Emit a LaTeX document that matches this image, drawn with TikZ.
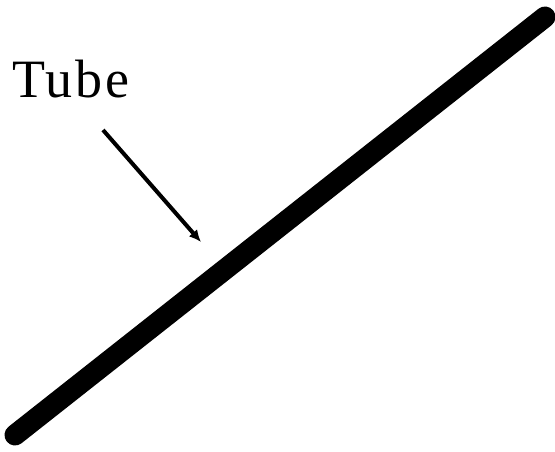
\documentclass[tikz,border=0pt]{standalone}
\usepackage{fontspec}
\setmainfont{Liberation Serif}
\usetikzlibrary{arrows.meta}

\begin{document}
\begin{tikzpicture}[x=1pt, y=-1pt]
        % Frame of the picture
        \useasboundingbox (0,0) rectangle (555,452);
        
        % The tube, a thick rod with rounded ends
        \coordinate (bottom) at (15,435);
        \coordinate (top) at (545,17);
        \draw[black, line width=21pt, line cap=round] (bottom) -- (top);
        
        % Label
        \node[anchor=base west, inner sep=0pt, font=\fontsize{54}{54}\selectfont\addfontfeatures{LetterSpace=5}] (label) at (12,98) {Tube};
        
        % Pointer to the tube
        \coordinate (tip) at (201,242);
        \draw[-{Latex[length=12pt, width=11pt]}, line width=4pt] (103,130) -- (tip);
        
    \end{tikzpicture}
\end{document}
